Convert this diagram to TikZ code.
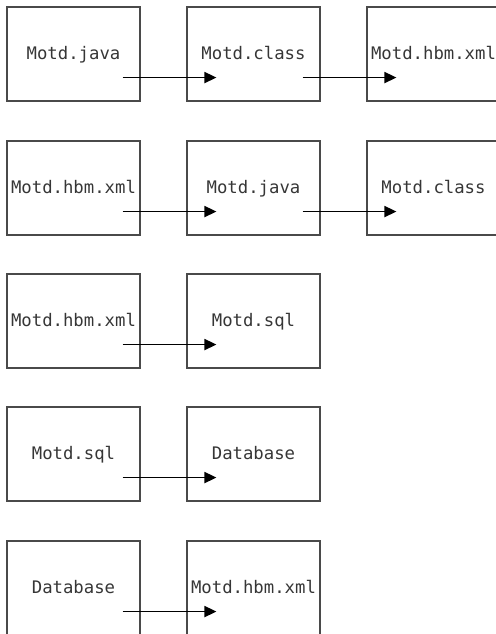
\documentclass[tikz,border=0pt]{standalone}
\usepackage{fontspec}
\setmonofont{DejaVu Sans Mono}
\usetikzlibrary{arrows.meta}
\definecolor{boxline}{HTML}{4A4A4A}
\definecolor{labeltext}{HTML}{363636}
\tikzset{
  filebox/.style={draw=boxline, line width=1.1pt, minimum width=133pt,
    minimum height=94pt, inner sep=0pt, text=labeltext,
    text height=14.6pt, text depth=4pt,
    font=\ttfamily\fontsize{17.3}{19}\selectfont},
  flow/.style={line width=1.8pt, -{Triangle[length=12pt,width=11pt]}}
}
\begin{document}
\begin{tikzpicture}[x=1pt,y=-1pt]
  \useasboundingbox (0,0) rectangle (495,634);
  % row 1: compile then generate mapping
  \node[filebox] (r1a) at (73.5,54) {Motd.java};
  \node[filebox] (r1b) at (253.5,54) {Motd.class};
  \node[filebox] (r1c) at (433.5,54) {Motd.hbm.xml};
  % row 2: mapping to source to class
  \node[filebox] (r2a) at (73.5,188) {Motd.hbm.xml};
  \node[filebox] (r2b) at (253.5,188) {Motd.java};
  \node[filebox] (r2c) at (433.5,188) {Motd.class};
  % row 3: mapping to schema script
  \node[filebox] (r3a) at (73.5,321) {Motd.hbm.xml};
  \node[filebox] (r3b) at (253.5,321) {Motd.sql};
  % row 4: schema script to database
  \node[filebox] (r4a) at (73.5,454) {Motd.sql};
  \node[filebox] (r4b) at (253.5,454) {Database};
  % row 5: database back to mapping
  \node[filebox] (r5a) at (73.5,588) {Database};
  \node[filebox] (r5b) at (253.5,588) {Motd.hbm.xml};

  \foreach \a/\b in {r1a/r1b, r1b/r1c, r2a/r2b, r2b/r2c, r3a/r3b, r4a/r4b, r5a/r5b}
    \draw[flow] ([shift={(-18,-24)}]\a.south east) -- ([shift={(30,-24)}]\b.south west);
\end{tikzpicture}
\end{document}
